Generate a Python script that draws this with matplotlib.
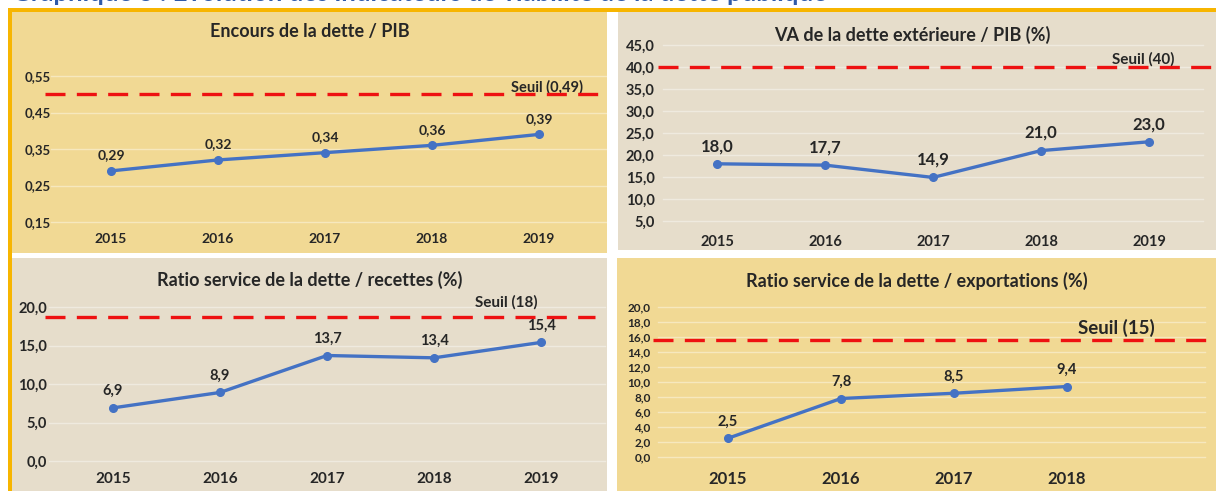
import matplotlib.pyplot as plt
from matplotlib.patches import Rectangle

W, H = 1216, 491

years5 = ['2015', '2016', '2017', '2018', '2019']
years4 = ['2015', '2016', '2017', '2018']

encours_pib = [0.29, 0.32, 0.34, 0.36, 0.39]
va_dette_ext = [18.0, 17.7, 14.9, 21.0, 23.0]
service_recettes = [6.9, 8.9, 13.7, 13.4, 15.4]
service_export = [2.5, 7.8, 8.5, 9.4]

seuils = [0.50, 40.0, 18.7, 15.6]
seuil_labels = ['Seuil (0,49)', 'Seuil (40)', 'Seuil (18)', 'Seuil (15)']

titles = ['Encours de la dette / PIB',
          'VA de la dette extérieure / PIB (%)',
          'Ratio service de la dette / recettes (%)',
          'Ratio service de la dette / exportations (%)']

FONT = ['Lato', 'DejaVu Sans']
TXT = '#262626'
YELLOW = '#f1d994'
GREY = '#e6ddcb'

plt.rcParams['font.family'] = FONT
plt.rcParams['font.weight'] = 'bold'


def px_rect(x0, y0, x1, y1):
    return [x0 / W, 1 - y1 / H, (x1 - x0) / W, (y1 - y0) / H]


def background(fig, x0, y0, x1, y1, color):
    l, b, w, h = px_rect(x0, y0, x1, y1)
    fig.patches.append(Rectangle((l, b), w, h, transform=fig.transFigure,
                                 facecolor=color, edgecolor='none', zorder=-2))


def panel(fig, axbox, vals, labels, ylim, yticks, fmt, seuil, seuil_lab,
          seuil_pos, title, title_pos, fs):
    ax = fig.add_axes(px_rect(*axbox))
    ax.set_zorder(2)
    ax.patch.set_alpha(0)
    n = len(vals)
    ax.set_xlim(-0.5, n - 0.5)
    ax.set_ylim(*ylim)
    for s in ax.spines.values():
        s.set_visible(False)
    ax.tick_params(length=0)
    ax.set_xticks(range(n))
    ax.set_xticklabels(labels, fontsize=fs['x'], color=TXT, fontweight='bold')
    ax.tick_params(axis='x', pad=fs['xpad'])
    ax.set_yticks(yticks)
    ax.set_yticklabels([fmt(v) for v in yticks], fontsize=fs['y'], color=TXT,
                       fontweight='bold')
    ax.tick_params(axis='y', pad=fs['ypad'])
    for v in yticks:
        ax.axhline(v, xmin=fs['gx'][0], xmax=fs['gx'][1], color='white',
                   alpha=0.4, lw=1.0, clip_on=False, zorder=1)
    ax.axhline(seuil, xmin=fs['rx'][0], xmax=fs['rx'][1], color='#ee1111',
               lw=2.4, dashes=(6.0, 3.4), clip_on=False, zorder=2)
    ax.annotate(seuil_lab, (seuil_pos, seuil),
                xycoords=ax.get_yaxis_transform(),
                xytext=(0, fs['soff']), textcoords='offset points',
                ha='center', va='bottom', fontsize=fs['s'], color=TXT,
                fontweight='bold', zorder=1)
    ax.plot(range(n), vals, color='#4472c4', lw=2.4, marker='o', ms=5.5,
            zorder=3, clip_on=False)
    for i, v in enumerate(vals):
        ax.annotate(fmt(v), (i, v), xytext=(0, 7), textcoords='offset points',
                    ha='center', va='bottom', fontsize=fs['d'], color=TXT,
                    fontweight='bold')
    fig.text(title_pos[0] / W, 1 - title_pos[1] / H, title, ha='center',
             va='center', fontsize=13, color=TXT, fontweight='bold')
    return ax


def f2(v):
    return ('%.2f' % v).replace('.', ',')


def f1(v):
    return ('%.1f' % v).replace('.', ',')


fig = plt.figure(figsize=(W / 100, H / 100), dpi=100)
fig.patch.set_facecolor('white')

# titre coupé en haut de l'image (seul le bas des lettres est visible)
fig.text(12 / W, 1 - 1 / H,
         'Graphique 3 : Evolution des indicateurs de viabilité de la dette publique',
         ha='left', va='baseline', fontsize=18.5, color='#2f5aa8',
         fontweight='bold')

# cadre orange
fig.patches.append(Rectangle((8 / W, 0), 4 / W, 1 - 8 / H,
                             transform=fig.transFigure, facecolor='#f7b500',
                             edgecolor='none', zorder=-1))
fig.patches.append(Rectangle((8 / W, 1 - 12 / H), 1 - 8 / W, 4 / H,
                             transform=fig.transFigure, facecolor='#f7b500',
                             edgecolor='none', zorder=-1))

background(fig, 12, 12, 607, 253, YELLOW)
background(fig, 618, 12, 1216, 250, GREY)
background(fig, 12, 258, 607, 491, GREY)
background(fig, 617, 258, 1216, 491, YELLOW)

panel(fig, (57.5, 76, 592.5, 222), encours_pib, years5, (0.15, 0.55),
      [0.15, 0.25, 0.35, 0.45, 0.55], f2, seuils[0], seuil_labels[0], 0.915,
      titles[0], (310, 32),
      dict(x=10, xpad=8, y=9.5, ypad=5, s=10.5, d=10, soff=0,
           gx=(-0.013, 1.025), rx=(-0.023, 1.03)))

panel(fig, (663, 45, 1203, 221), va_dette_ext, years5, (5, 45),
      [5, 10, 15, 20, 25, 30, 35, 40, 45], f1, seuils[1], seuil_labels[1],
      0.89, titles[1], (912, 35),
      dict(x=10.5, xpad=10, y=10.5, ypad=6, s=11, d=12, soff=0,
           gx=(0.0, 1.0), rx=(-0.01, 1.03)))

panel(fig, (59.5, 307, 594.5, 461), service_recettes, years5, (0, 20),
      [0, 5, 10, 15, 20], f1, seuils[2], seuil_labels[2], 0.835,
      titles[2], (310, 280),
      dict(x=11, xpad=8, y=10.5, ypad=9, s=11, d=10.5, soff=5,
           gx=(-0.02, 1.02), rx=(-0.027, 1.0)))

panel(fig, (671.5, 307, 1123.5, 457), service_export, years4, (0, 20),
      [0, 2, 4, 6, 8, 10, 12, 14, 16, 18, 20], f1, seuils[3], seuil_labels[3],
      0.985, titles[3], (917, 281),
      dict(x=12, xpad=10, y=8.5, ypad=15, s=13.5, d=10.5, soff=2,
           gx=(-0.03, 1.18), rx=(-0.04, 1.2)))

fig.savefig('out.png', dpi=100)
